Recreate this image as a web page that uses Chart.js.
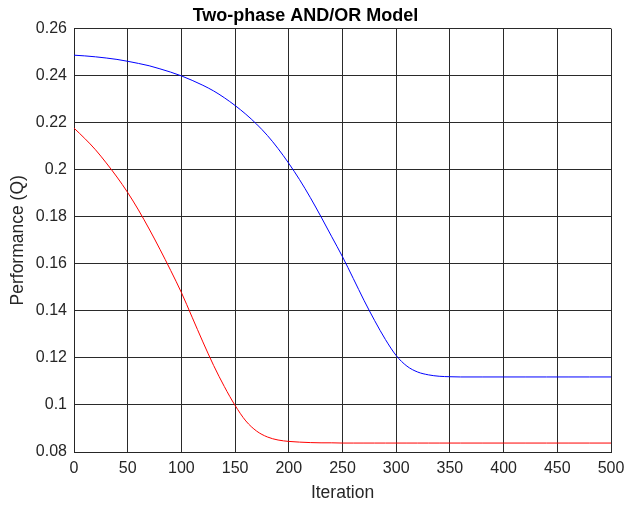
<!DOCTYPE html>
<html lang="en">
<head>
    <meta charset="UTF-8">
    <title>Two-phase AND/OR Model</title>
    <script src="https://cdn.jsdelivr.net/npm/chart.js"></script>
    <style>
        html, body { margin: 0; padding: 0; background: #fff; }
        #wrap { width: 625px; height: 506px; }
    </style>
</head>
<body>
    <div id="wrap"><canvas id="chart"></canvas></div>

    <script>
        // values
        const iterations = [0, 10, 20, 30, 40, 50, 60, 70, 80, 90, 100, 110, 120, 130, 140, 150, 160, 170, 180, 190, 200,
            210, 220, 230, 240, 250, 260, 270, 280, 290, 300, 310, 320, 330, 340, 350, 360, 380, 400, 420, 440, 460, 480, 500];
        const blueQ = [0.2487, 0.2484, 0.2480, 0.2475, 0.2469, 0.2461, 0.2452, 0.2442, 0.2429, 0.2415, 0.2399,
            0.2380, 0.2359, 0.2335, 0.2306, 0.2273, 0.2236, 0.2194, 0.2146, 0.2090, 0.2027,
            0.1958, 0.1882, 0.1800, 0.1715, 0.1630, 0.1538, 0.1445, 0.1358, 0.1278, 0.1210,
            0.1165, 0.1140, 0.1128, 0.1122, 0.1120, 0.1119, 0.1119, 0.1119, 0.1119, 0.1119, 0.1119, 0.1119, 0.1119];
        const redQ = [0.2177, 0.2133, 0.2085, 0.2029, 0.1969, 0.1903, 0.1829, 0.1748, 0.1662, 0.1572, 0.1478,
            0.1373, 0.1268, 0.1168, 0.1078, 0.0998, 0.0932, 0.0889, 0.0864, 0.0851, 0.0845,
            0.0842, 0.0840, 0.0839, 0.0839, 0.0838, 0.0838, 0.0838, 0.0838, 0.0838, 0.0838,
            0.0838, 0.0838, 0.0838, 0.0838, 0.0838, 0.0838, 0.0838, 0.0838, 0.0838, 0.0838, 0.0838, 0.0838, 0.0838];
        const xTicks = [0, 50, 100, 150, 200, 250, 300, 350, 400, 450, 500];
        const yTicks = [0.08, 0.1, 0.12, 0.14, 0.16, 0.18, 0.2, 0.22, 0.24, 0.26];

        const toPoints = vals => iterations.map((it, i) => ({ x: it, y: vals[i] }));
        const font = 'Liberation Sans, Arial, sans-serif';
        const gridColor = '#2a2a2a';

        new Chart(document.getElementById('chart'), {
            type: 'line',
            data: {
                datasets: [
                    { data: toPoints(blueQ), borderColor: '#0000ff', borderWidth: 1, pointRadius: 0, cubicInterpolationMode: 'monotone' },
                    { data: toPoints(redQ), borderColor: '#ff0000', borderWidth: 1, pointRadius: 0, cubicInterpolationMode: 'monotone' }
                ]
            },
            options: {
                responsive: true,
                maintainAspectRatio: false,
                animation: false,
                layout: { padding: { left: 0, right: 14, top: 0, bottom: 0 } },
                plugins: {
                    legend: { display: false },
                    tooltip: { enabled: false },
                    title: {
                        display: true,
                        text: 'Two-phase AND/OR Model',
                        color: '#000',
                        font: { family: font, size: 18, weight: 'bold' },
                        padding: { top: 5, bottom: 2 }
                    }
                },
                scales: {
                    x: {
                        type: 'linear',
                        min: 0,
                        max: 500,
                        afterBuildTicks: s => { s.ticks = xTicks.map(v => ({ value: v })); },
                        afterFit: s => { s.height = 54; s.paddingLeft = 0; s.paddingRight = 0; },
                        grid: { color: gridColor, lineWidth: 1, drawTicks: false },
                        border: { color: '#262626', width: 1 },
                        ticks: { color: '#262626', font: { family: font, size: 16 }, padding: 7, maxRotation: 0 },
                        title: { display: true, text: 'Iteration', color: '#262626', font: { family: font, size: 17.5 }, padding: { top: 0, bottom: 2.5 } }
                    },
                    y: {
                        type: 'linear',
                        min: 0.08,
                        max: 0.26,
                        afterBuildTicks: s => { s.ticks = yTicks.map(v => ({ value: v })); },
                        afterFit: s => { s.width = 74; s.paddingTop = 0; s.paddingBottom = 0; },
                        grid: { color: gridColor, lineWidth: 1, drawTicks: false },
                        border: { color: '#262626', width: 1 },
                        ticks: {
                            color: '#262626',
                            font: { family: font, size: 16 },
                            padding: 7,
                            callback: v => String(+v.toFixed(2))
                        },
                        title: { display: true, text: 'Performance (Q)', color: '#262626', font: { family: font, size: 17.5 }, padding: { top: 8, bottom: 0 } }
                    }
                }
            }
        });
    </script>
</body>
</html>
